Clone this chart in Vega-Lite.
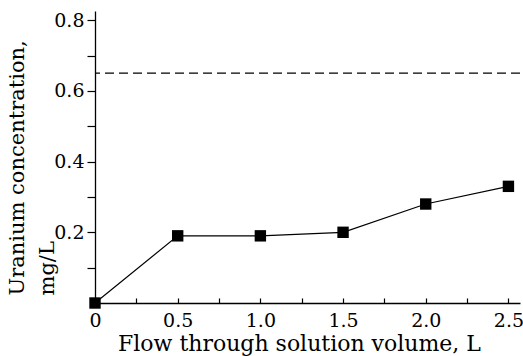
{
  "$schema": "https://vega.github.io/schema/vega-lite/v6.json",
  "width": 425,
  "height": 292,
  "autosize": "none",
  "padding": {"left": 95, "top": 11, "right": 3, "bottom": 53},
  "background": "white",
  "config": {
    "view": {"stroke": null},
    "font": "DejaVu Serif",
    "axis": {
      "grid": false,
      "domainColor": "black",
      "tickColor": "black",
      "labelColor": "black",
      "titleColor": "black",
      "labelFont": "DejaVu Serif",
      "titleFont": "DejaVu Serif",
      "labelFontSize": 19,
      "titleFontSize": 21,
      "titleFontWeight": "normal",
      "domainWidth": 1.3,
      "tickWidth": 1.2
    }
  },
  "datasets": {
    "series": [
      {"volume": 0.0, "conc": 0.0},
      {"volume": 0.5, "conc": 0.19},
      {"volume": 1.0, "conc": 0.19},
      {"volume": 1.5, "conc": 0.2},
      {"volume": 2.0, "conc": 0.28},
      {"volume": 2.5, "conc": 0.33}
    ],
    "limit": [{"conc": 0.65}]
  },
  "layer": [
    {
      "data": {"name": "limit"},
      "mark": {"type": "rule", "strokeDash": [9, 5], "strokeWidth": 1.3, "color": "black"},
      "encoding": {
        "y": {"field": "conc", "type": "quantitative", "scale": {"domain": [0, 0.826]}}
      }
    },
    {
      "data": {"name": "series"},
      "mark": {"type": "line", "color": "black", "strokeWidth": 1.2, "clip": false},
      "encoding": {
        "x": {"field": "volume", "type": "quantitative"},
        "y": {"field": "conc", "type": "quantitative"}
      }
    },
    {
      "data": {"name": "series"},
      "mark": {"type": "square", "color": "black", "filled": true, "opacity": 1, "size": 130, "clip": false},
      "encoding": {
        "x": {
          "field": "volume",
          "type": "quantitative",
          "scale": {"domain": [0, 2.57], "nice": false, "zero": false},
          "axis": {
            "title": "Flow through solution volume,  L",
            "values": [0, 0.25, 0.5, 0.75, 1.0, 1.25, 1.5, 1.75, 2.0, 2.25, 2.5],
            "labelExpr": "datum.value == 0 ? '0' : (round(datum.value * 4) % 2 == 0 ? format(datum.value, '.1f') : '')",
            "tickSize": -5,
            "labelPadding": 13,
            "titleX": 204,
            "titleY": 47,
            "titleFontSize": 22,
            "titleBaseline": "alphabetic",
            "titleAlign": "center",
            "labelFlush": false,
            "labelOverlap": false
          }
        },
        "y": {
          "field": "conc",
          "type": "quantitative",
          "scale": {"domain": [0, 0.826], "nice": false},
          "axis": {
            "title": ["Uranium concentration,", "mg/L"],
            "values": [0.1, 0.2, 0.3, 0.4, 0.5, 0.6, 0.7, 0.8],
            "labelExpr": "round(datum.value * 10) % 2 == 0 ? format(datum.value, '.1f') : ''",
            "tickSize": 8,
            "labelPadding": 3,
            "titleAlign": "left",
            "titleX": -68,
            "titleY": 284,
            "titleBaseline": "bottom",
            "titleLineHeight": 30,
            "labelOverlap": false,
            "labelFlush": false
          }
        }
      }
    }
  ]
}
